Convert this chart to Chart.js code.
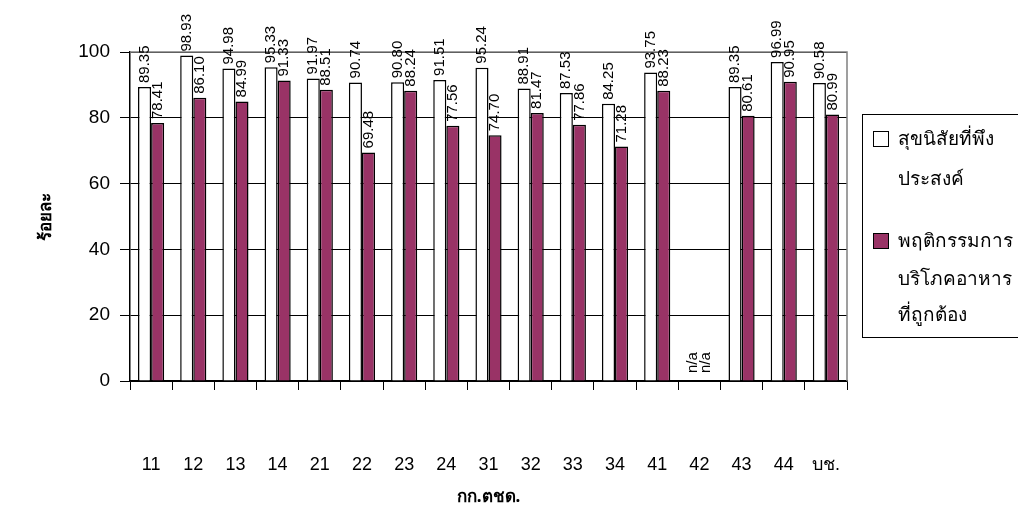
<!DOCTYPE html>
<html>
<head>
<meta charset="utf-8">
<script src="https://cdn.jsdelivr.net/npm/chart.js@4/dist/chart.umd.min.js"></script>
<style>
  body{margin:0;background:#fff;}
  #wrap{position:relative;width:1018px;height:513px;}
  #legend{position:absolute;left:862px;top:114px;width:170px;height:224px;border:1px solid #000;box-sizing:border-box;
    font-family:Tahoma,"Noto Sans","DejaVu Sans",sans-serif;font-size:19px;color:#000;}
  .item{position:absolute;left:10px;line-height:36px;}
  .sw{position:absolute;left:0;width:14px;height:14px;border:1.5px solid #000;}
  .txt{position:absolute;left:25px;white-space:nowrap;}
</style>
</head>
<body>
<div id="wrap">
  <canvas id="c" width="1018" height="513"></canvas>
  <div id="legend">
    <div class="item" style="top:5px"><span class="sw" style="top:11px;background:#fff"></span><span class="txt" style="top:0">สุขนิสัยที่พึง</span><span class="txt" style="top:40px">ประสงค์</span></div>
    <div class="item" style="top:107px"><span class="sw" style="top:11px;background:#993366"></span><span class="txt" style="top:0">พฤติกรรมการ</span><span class="txt" style="top:38px">บริโภคอาหาร</span><span class="txt" style="top:74px">ที่ถูกต้อง</span></div>
  </div>
</div>
<script>
// categories (กก.ตชด.) and the two series; null = n/a
const categories=["11","12","13","14","21","22","23","24","31","32","33","34","41","42","43","44","บช."];
const hygiene=[89.35,98.93,94.98,95.33,91.97,90.74,90.80,91.51,95.24,88.91,87.53,84.25,93.75,null,89.35,96.99,90.58];
const foodBehaviour=[78.41,86.10,84.99,91.33,88.51,69.48,88.24,77.56,74.70,81.47,77.86,71.28,88.23,null,80.61,90.95,80.99];
const seriesNames=["สุขนิสัยที่พึงประสงค์","พฤติกรรมการบริโภคอาหารที่ถูกต้อง"];
const yTicks=[0,20,40,60,80,100];

const FONT="'Liberation Sans',Arial,sans-serif";
const THAI="Tahoma,'Noto Sans','DejaVu Sans',sans-serif";

// value labels written upward above each bar, "n/a" for missing ones
const barLabels={
  id:"barLabels",
  afterDatasetsDraw(chart){
    const ctx=chart.ctx, yS=chart.scales.y;
    ctx.save();
    ctx.font="15px "+FONT; ctx.fillStyle="#000";
    ctx.textAlign="left"; ctx.textBaseline="middle";
    chart.data.datasets.forEach((ds,i)=>{
      const meta=chart.getDatasetMeta(i);
      meta.data.forEach((el,j)=>{
        const v=ds.data[j];
        const y=(v==null)?yS.getPixelForValue(0)-8:el.y-4;
        ctx.save(); ctx.translate(el.x,y); ctx.rotate(-Math.PI/2);
        ctx.fillText(v==null?"n/a":v.toFixed(2),0,0);
        ctx.restore();
      });
    });
    ctx.restore();
  }
};
// grey plot-area frame on top and right
const frame={
  id:"frame",
  beforeDatasetsDraw(chart){
    const a=chart.chartArea, ctx=chart.ctx;
    ctx.save(); ctx.strokeStyle="#808080"; ctx.lineWidth=1.5;
    ctx.beginPath(); ctx.moveTo(a.left,a.top); ctx.lineTo(a.right,a.top); ctx.lineTo(a.right,a.bottom); ctx.stroke();
    ctx.restore();
  }
};

new Chart(document.getElementById("c").getContext("2d"),{
  type:"bar",
  data:{labels:categories,datasets:[
    {label:seriesNames[0],data:hygiene,backgroundColor:"#ffffff",borderColor:"#000",borderWidth:1.5,categoryPercentage:0.62,barPercentage:1},
    {label:seriesNames[1],data:foodBehaviour,backgroundColor:"#993366",borderColor:"#000",borderWidth:1.5,categoryPercentage:0.62,barPercentage:1}
  ]},
  options:{
    animation:false,responsive:false,maintainAspectRatio:false,
    layout:{padding:{top:52,right:171,left:0,bottom:0}},
    plugins:{legend:{display:false},tooltip:{enabled:false}},
    scales:{
      x:{
        afterFit(s){ s.height=132; },
        grid:{offset:true,drawOnChartArea:false,tickLength:9,tickColor:"#000",lineWidth:1},
        border:{color:"#000",width:1.5},
        ticks:{color:"#000",font:{family:FONT,size:18},padding:64},
        title:{display:true,text:"กก.ตชด.",color:"#000",font:{family:THAI,size:17,weight:"bold"},padding:{bottom:6}}
      },
      y:{
        min:0,max:100,
        afterFit(s){ s.width=130; },
        afterBuildTicks(s){ s.ticks=yTicks.map(v=>({value:v})); },
        grid:{color:"#000",lineWidth:1,tickLength:10,tickColor:"#000"},
        border:{color:"#000",width:1.5},
        ticks:{color:"#000",font:{family:FONT,size:19},padding:10},
        title:{display:true,text:"ร้อยละ",color:"#000",font:{family:THAI,size:17,weight:"bold"},padding:{top:36}}
      }
    }
  },
  plugins:[frame,barLabels]
});
</script>
</body>
</html>
